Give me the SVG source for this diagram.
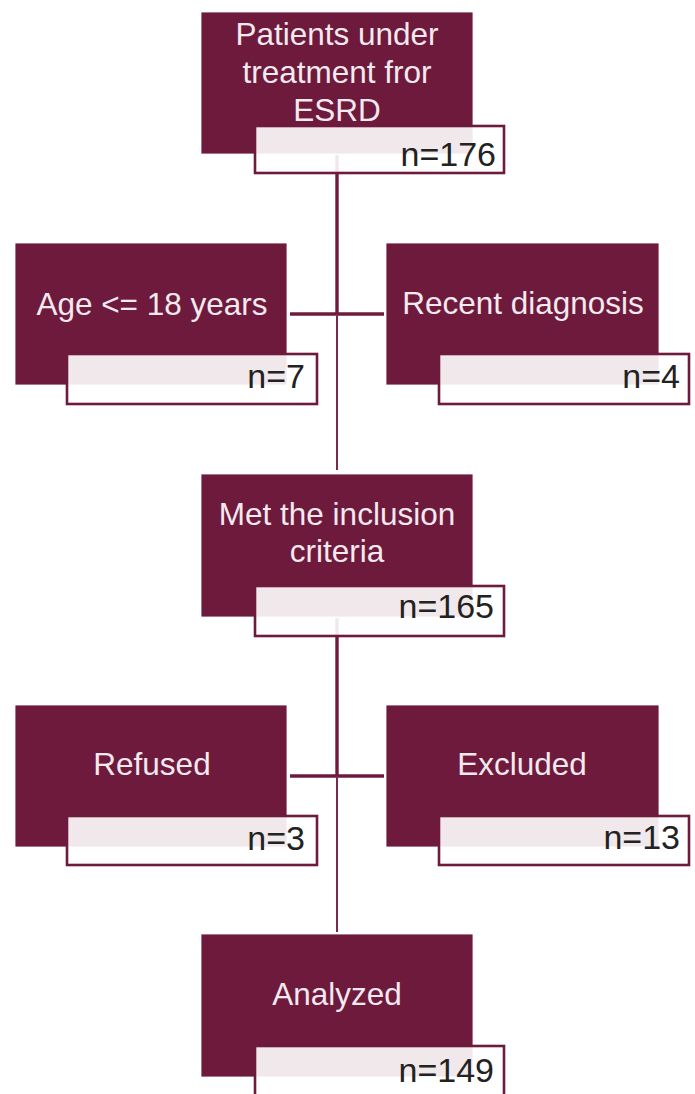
<svg xmlns="http://www.w3.org/2000/svg" width="695" height="1094" viewBox="0 0 695 1094">
<style>
.box{fill:#6e1a3c;stroke:#ffffff;stroke-width:0.8}
.cnt{fill:#ffffff;fill-opacity:0.9;stroke:#6e1a3c;stroke-width:2.6}
.lbl{font-family:"Liberation Sans",Arial,sans-serif;font-size:31.5px;fill:#f3e9ee;text-anchor:middle}
.num{font-family:"Liberation Sans",Arial,sans-serif;font-size:34px;fill:#222222;text-anchor:end}
.thick{stroke:#6e1a3c;stroke-width:3.4;fill:none}
.thin{stroke:#7a2a4a;stroke-width:2;fill:none}
</style>
<rect width="695" height="1094" fill="#ffffff"/>
<g id="connectors">
<line class="thick" x1="337" y1="155" x2="337" y2="314"/>
<line class="thick" x1="290" y1="314" x2="384" y2="314"/>
<line class="thin" x1="337" y1="314" x2="337" y2="470"/>
<line class="thick" x1="337" y1="618" x2="337" y2="776"/>
<line class="thick" x1="290" y1="776" x2="384" y2="776"/>
<line class="thin" x1="337" y1="776" x2="337" y2="932"/>
</g>
<g id="node-patients">
<rect class="box" x="201" y="12" width="272" height="142"/>
<text class="lbl" x="337" y="45">Patients under</text>
<text class="lbl" x="337" y="83">treatment fror</text>
<text class="lbl" x="337" y="121">ESRD</text>
<rect class="cnt" x="255" y="126" width="249" height="47"/>
<text class="num" x="496" y="166">n=176</text>
</g>
<g id="node-age">
<rect class="box" x="15" y="243" width="272" height="142"/>
<text class="lbl" x="152" y="315">Age &lt;= 18 years</text>
<rect class="cnt" x="67" y="354" width="250" height="50"/>
<text class="num" x="305" y="388">n=7</text>
</g>
<g id="node-recent">
<rect class="box" x="386" y="243" width="273" height="142"/>
<text class="lbl" x="523" y="314">Recent diagnosis</text>
<rect class="cnt" x="439" y="354" width="250" height="50"/>
<text class="num" x="680" y="388">n=4</text>
</g>
<g id="node-met">
<rect class="box" x="201" y="474" width="272" height="143"/>
<text class="lbl" x="337" y="525">Met the inclusion</text>
<text class="lbl" x="337" y="562">criteria</text>
<rect class="cnt" x="255" y="586" width="249" height="50"/>
<text class="num" x="494" y="618">n=165</text>
</g>
<g id="node-refused">
<rect class="box" x="15" y="705" width="272" height="142"/>
<text class="lbl" x="152" y="775">Refused</text>
<rect class="cnt" x="67" y="816" width="250" height="49"/>
<text class="num" x="305" y="850">n=3</text>
</g>
<g id="node-excluded">
<rect class="box" x="386" y="705" width="273" height="142"/>
<text class="lbl" x="522" y="775">Excluded</text>
<rect class="cnt" x="439" y="816" width="250" height="49"/>
<text class="num" x="680" y="849">n=13</text>
</g>
<g id="node-analyzed">
<rect class="box" x="201" y="934" width="272" height="143"/>
<text class="lbl" x="337" y="1005">Analyzed</text>
<rect class="cnt" x="255" y="1046" width="249" height="52"/>
<text class="num" x="494" y="1082">n=149</text>
</g>
</svg>
